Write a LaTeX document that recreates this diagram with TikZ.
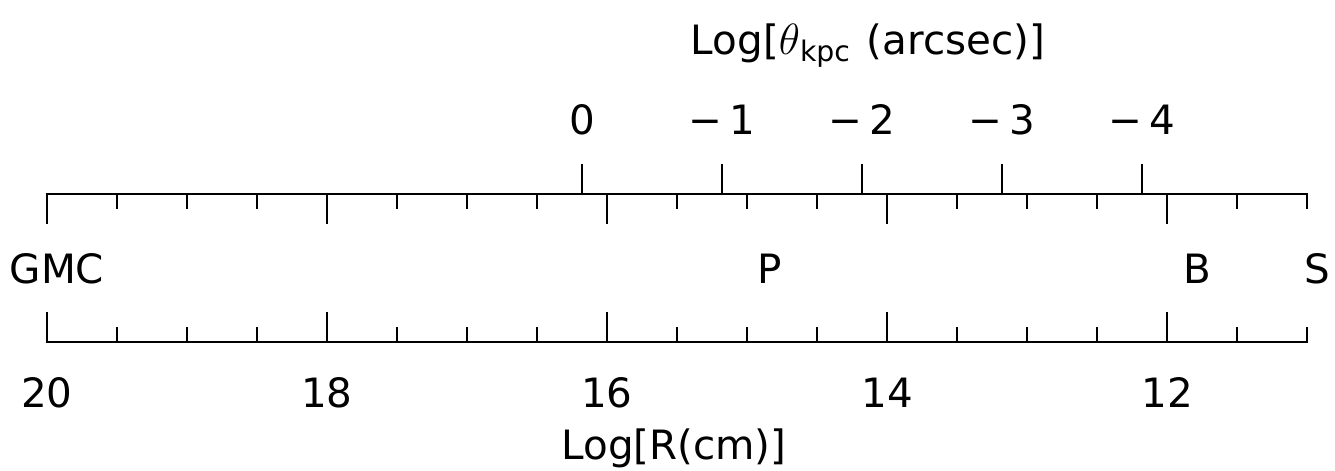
\documentclass[tikz,border=0pt]{standalone}
\usepackage{fontspec}
\setmainfont{DejaVu Sans}
\usetikzlibrary{positioning,calc}

\begin{document}
\begin{tikzpicture}[
		axis/.style={line width=1.1pt},
		lbl/.style={font=\fontsize{23}{28}\selectfont, inner sep=0pt, anchor=base}
		]
		\useasboundingbox (0,0) rectangle (26.7,9.42);
		
		% ======================
		% TOP AXIS (Log R, ticks down)
		% ======================
		\coordinate (tl) at (0.94,5.54);
		\coordinate (tr) at (26.14,5.54);
		\draw[axis] ($(tl)+(0,-0.6)$) -- (tl) -- (tr) -- ++(0,-0.3);
		\foreach \i in {1,...,17} {
			\pgfmathsetmacro\len{ifthenelse(mod(\i,4)==0,0.6,0.3)}
			\draw[axis] ($(tl)+(1.4*\i,0)$) -- ++(0,-\len);
		}
		
		% ======================
		% THETA TICKS (up)
		% ======================
		\foreach \k/\t in {0/0,1/−\,1,2/−\,2,3/−\,3,4/−\,4} {
			\coordinate (th\k) at ($(tl)+(10.7+2.8*\k,0)$);
			\draw[axis] (th\k) -- ++(0,0.6);
			\node[lbl] (thlbl\k) at ($(th\k)+(0,1.18)$) {\t};
		}
		\node[lbl] (thtitle) at (17.36,8.32) {Log[$\theta$\textsubscript{kpc}\hspace{0.4em}(arcsec)]};
		
		% ======================
		% OBJECT LABELS
		% ======================
		\node[lbl] (gmc) at (1.14,3.74) {GMC};
		\node[lbl] (p) at (15.4,3.74) {P};
		\node[lbl] (b) at (23.94,3.74) {B};
		\node[lbl] (s) at (26.34,3.74) {S};
		
		% ======================
		% BOTTOM AXIS (Log R, ticks up)
		% ======================
		\coordinate (bl) at (0.94,2.58);
		\coordinate (br) at (26.14,2.58);
		\draw[axis] ($(bl)+(0,0.6)$) -- (bl) -- (br) -- ++(0,0.3);
		\foreach \i in {1,...,17} {
			\pgfmathsetmacro\len{ifthenelse(mod(\i,4)==0,0.6,0.3)}
			\draw[axis] ($(bl)+(1.4*\i,0)$) -- ++(0,\len);
		}
		\foreach \j/\v in {0/20,1/18,2/16,3/14,4/12} {
			\node[lbl] (rlbl\j) at ($(bl)+(5.6*\j,-1.32)$) {\v};
		}
		\node[lbl] (rtitle) at (13.48,0.22) {Log[R(cm)]};
		
	\end{tikzpicture}
\end{document}
